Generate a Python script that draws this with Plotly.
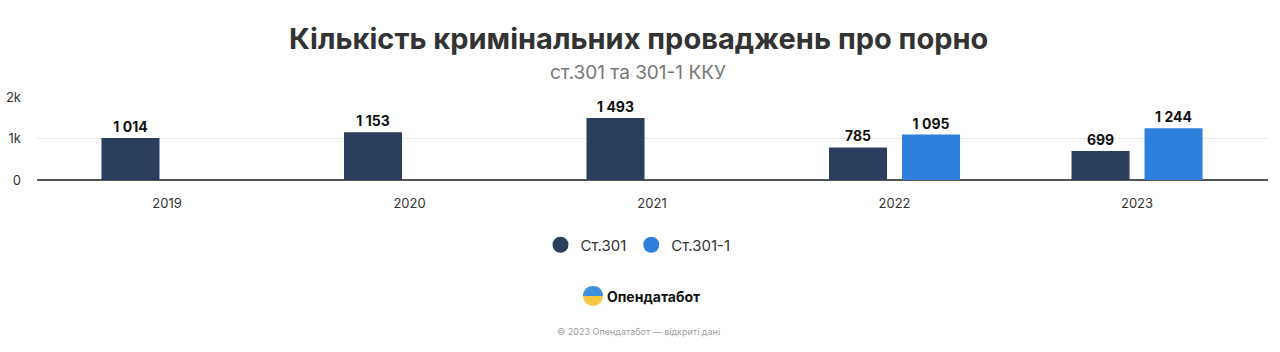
import math
import plotly.graph_objects as go

years = ["2019", "2020", "2021", "2022", "2023"]
st301 = [1014, 1153, 1493, 785, 699]
st301_1 = [None, None, None, 1095, 1244]
series_names = ["Ст.301", "Ст.301-1"]
colors = ["#2c3e5d", "#2f80dd"]
y_ticks = [0, 1000, 2000]
y_tick_labels = ["0", "1k", "2k"]


def fmt(v):
    if v is None:
        return ""
    return f"{v:,}".replace(",", " ")


FONT = "Inter, Roboto, sans-serif"
W, H = 1280, 352
ML, MR, MT, MB = 37, 12, 97, 172
pw = W - ML - MR
ph = H - MT - MB


def px_to_paper(x, y):
    return (x - ML) / pw, (H - MB - y) / ph


fig = go.Figure()
for name, vals, col in zip(series_names, [st301, st301_1], colors):
    fig.add_trace(go.Bar(
        x=years, y=vals, name=name, marker_color=col,
        marker_line_width=0,
        text=[fmt(v) for v in vals], textposition="outside",
        textfont=dict(family=FONT, size=14, color="#111111", weight="bold"),
        cliponaxis=False, showlegend=False,
    ))
    fig.add_trace(go.Scatter(
        x=[None], y=[None], mode="markers", name=name,
        marker=dict(symbol="circle", size=16, color=col),
    ))

lx, ly = px_to_paper(638, 245)

fig.update_layout(
    width=W, height=H,
    margin=dict(l=ML, r=MR, t=MT, b=MB, autoexpand=False),
    paper_bgcolor="white", plot_bgcolor="white",
    barmode="group", bargap=0.398, bargroupgap=0.205,
    font=dict(family=FONT, color="#333333", size=13),
    showlegend=True,
    legend=dict(orientation="h", x=lx, xanchor="center", y=ly, yanchor="middle",
                font=dict(family=FONT, size=15, color="#333333"),
                itemsizing="trace", itemwidth=30, traceorder="normal"),
    xaxis=dict(range=[-0.536, 4.54], showgrid=False, showline=False, ticks="",
               automargin=False, ticklabelstandoff=14,
               tickfont=dict(size=13, color="#333333")),
    yaxis=dict(range=[0, 2000], tickvals=y_ticks, ticktext=y_tick_labels,
               showgrid=True, gridcolor="#e8e8e8", gridwidth=1,
               zeroline=True, zerolinecolor="#555555", zerolinewidth=1.5,
               showline=False, ticks="", ticklabelstandoff=15, automargin=False,
               tickfont=dict(size=13, color="#333333")),
)

cx = px_to_paper(638, 0)[0]
anns = [
    dict(text="<b>Кількість кримінальних проваджень про порно</b>", x=cx, y=38,
         size=29, color="#333333", xanchor="center"),
    dict(text="ст.301 та 301-1 ККУ", x=cx, y=72, size=19, color="#777777", xanchor="center"),
    dict(text="<b>Опендатабот</b>", x=px_to_paper(605, 0)[0], y=296, size=14,
         color="#111111", xanchor="left"),
    dict(text="© 2023 Опендатабот — відкриті дані", x=cx, y=331, size=9,
         color="#a0a0a0", xanchor="center"),
]
for a in anns:
    fig.add_annotation(text=a["text"], x=a["x"], y=px_to_paper(0, a["y"])[1],
                       xref="paper", yref="paper", xanchor=a["xanchor"], yanchor="middle",
                       showarrow=False,
                       font=dict(family=FONT, size=a["size"], color=a["color"]))

# logo: circle with blue top / yellow bottom
cx0, cy0 = px_to_paper(583, 286)
cx1, cy1 = px_to_paper(603, 306)
fig.add_shape(type="circle", xref="paper", yref="paper", x0=cx0, x1=cx1, y0=cy1, y1=cy0,
              fillcolor="#f5c842", line_width=0)
pts = []
for i in range(0, 181, 10):
    ang = math.radians(i)
    pts.append(px_to_paper(593 + 10 * math.cos(ang), 296 - 10 * math.sin(ang)))
path = "M " + " L ".join(f"{p[0]},{p[1]}" for p in pts) + " Z"
fig.add_shape(type="path", xref="paper", yref="paper", path=path,
              fillcolor="#3d8fe0", line_width=0)

fig.write_html("out.html")
